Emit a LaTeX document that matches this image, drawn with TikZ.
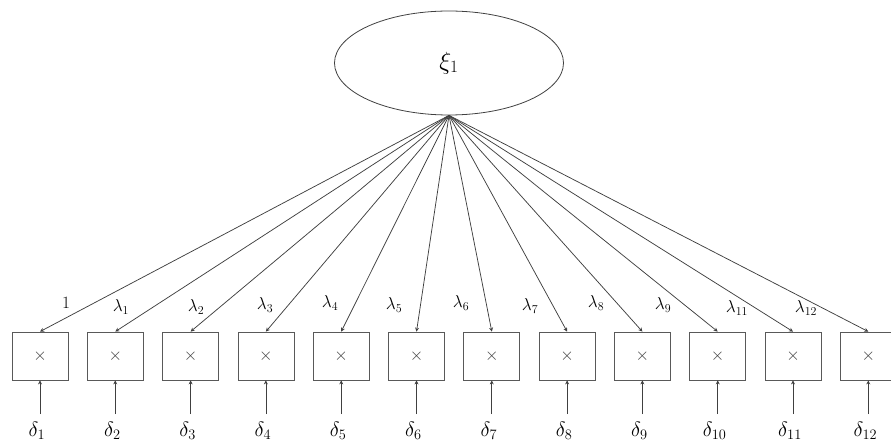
\documentclass[tikz,border=0pt]{standalone}
\usetikzlibrary{shapes.geometric,arrows.meta}
\begin{document}
\begin{tikzpicture}[x=1pt,y=-1pt,
  ln/.style={draw=black!75, line width=0.75pt},
  arr/.style={ln,-{Stealth[length=4pt,width=4pt]}},
  latent/.style={ellipse, draw=black!75, line width=0.8pt, minimum width=229pt, minimum height=104pt, inner sep=0pt},
  obs/.style={rectangle, draw=black!65, line width=0.8pt, minimum width=56pt, minimum height=48pt, inner sep=0pt, font=\fontsize{17}{19}\selectfont, text=black!75},
  errlab/.style={inner sep=1pt, font=\fontsize{22}{24}\selectfont},
  loadlab/.style={inner sep=0pt, font=\fontsize{17}{19}\selectfont}]
\useasboundingbox (0,0) rectangle (891,443);
\node[latent] (xi) at (449,63) {\fontsize{27}{29}\selectfont$\xi_1$};
\foreach \i/\lab/\lx/\ly in {1/1/66/303, 2/\lambda_1/121/307, 3/\lambda_2/196/307, 4/\lambda_3/265/305,
  5/\lambda_4/330/303, 6/\lambda_5/394/305, 7/\lambda_6/461/303, 8/\lambda_7/530/306,
  9/\lambda_8/596/303, 10/\lambda_9/663/305, 11/\lambda_{11}/737/308, 12/\lambda_{12}/806/308} {
  \pgfmathsetmacro{\bx}{40+75.3*(\i-1)}
  \node[obs] (b\i) at (\bx,356) {$\times$};
  \node[errlab] (d\i) at (\bx-3,431) {$\delta_{\i}$};
  \node[loadlab] (l\i) at (\lx,\ly) {$\lab$};
  \draw[arr] (xi.south) -- (b\i.north);
  \draw[arr] (b\i.south |- 0,414) coordinate (e\i) -- (b\i.south);
}
\end{tikzpicture}
\end{document}
